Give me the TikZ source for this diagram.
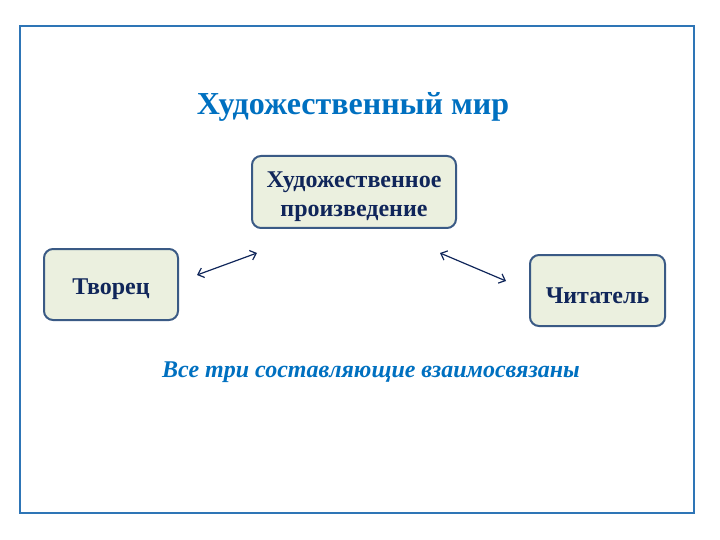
\documentclass[tikz,border=0pt]{standalone}
\usepackage{fontspec}
\setmainfont{Liberation Serif}
\usetikzlibrary{arrows.meta}
\definecolor{frameblue}{HTML}{2E75B6}
\definecolor{titleblue}{HTML}{0070C0}
\definecolor{boxfill}{HTML}{EBF0DF}
\definecolor{boxdraw}{HTML}{3A5A85}
\definecolor{navy}{HTML}{10265A}
\tikzset{
  box/.style={draw=boxdraw, line width=2pt, fill=boxfill, rounded corners=9pt, inner sep=0pt},
  boxtext/.style={text=navy, font=\bfseries\fontsize{24}{29}\selectfont, align=center, inner sep=0pt, yshift=-5pt},
  link/.style={draw=navy, line width=1.2pt, {Straight Barb[length=5.5pt,width=10pt]}-{Straight Barb[length=5.5pt,width=10pt]}}
}
\begin{document}
\begin{tikzpicture}[x=1pt,y=-1pt]
\useasboundingbox (0,0) rectangle (720,540);
\draw[frameblue, line width=2.5pt] (20,26) rectangle (694,513);
\node[text=titleblue, font=\bfseries\fontsize{32}{38}\selectfont] (title) at (353,107) {Художественный мир};
\node[box, minimum width=204pt, minimum height=72pt,
  label={[boxtext]center:{Художественное\\произведение}}] (work) at (354,192) {};
\node[box, minimum width=134pt, minimum height=71pt,
  label={[boxtext]center:Творец}] (creator) at (111,284.5) {};
\node[box, minimum width=135pt, minimum height=71pt,
  label={[boxtext]center:Читатель}] (reader) at (597.5,290.5) {};
\coordinate (l1) at (197,275);
\coordinate (l2) at (257,253);
\coordinate (r1) at (440,253);
\coordinate (r2) at (506,281);
\draw[link] (l1) -- (l2);
\draw[link] (r1) -- (r2);
\node[text=titleblue, font=\bfseries\itshape\fontsize{24}{28}\selectfont] (note) at (371,372) {Все три составляющие взаимосвязаны};
\end{tikzpicture}
\end{document}
